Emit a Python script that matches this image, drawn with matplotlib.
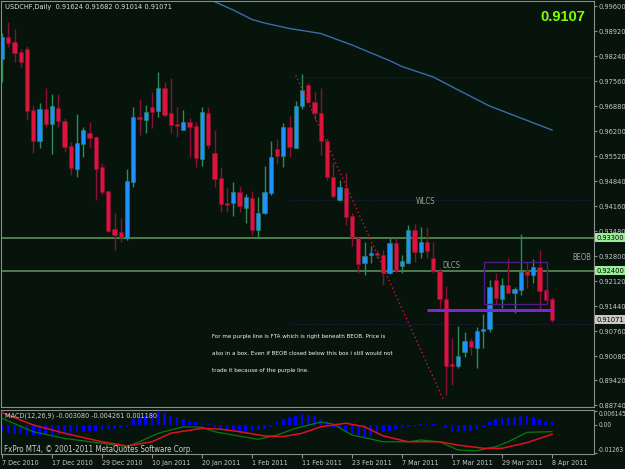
import numpy as np
import matplotlib.pyplot as plt
from matplotlib.patches import Rectangle
from matplotlib.transforms import blended_transform_factory

plt.rcParams['font.family'] = ['DejaVu Sans']
plt.rcParams['font.stretch'] = 'condensed'

# USDCHF daily, 7 Dec 2010 - 8 Apr 2011 (one entry per bar)
opens = [0.98158, 0.98765, 0.98621, 0.98357, 0.98430, 0.96771, 0.95928, 0.96798, 0.96398, 0.96825,
         0.96472, 0.95792, 0.95174, 0.95854, 0.96145, 0.96045, 0.95221, 0.94568, 0.93534, 0.93461,
         0.93281, 0.94821, 0.96581, 0.96507, 0.96861, 0.96752, 0.97378, 0.96681, 0.96382, 0.96235,
         0.96445, 0.96344, 0.95446, 0.96698, 0.95593, 0.94913, 0.94241, 0.94241, 0.94532, 0.94114,
         0.94386, 0.93499, 0.93978, 0.94522, 0.95718, 0.95520, 0.96317, 0.95746, 0.96888, 0.97451,
         0.96997, 0.96698, 0.95936, 0.94957, 0.94323, 0.94658, 0.93888, 0.93298, 0.92601, 0.92819,
         0.92890, 0.92827, 0.92346, 0.93162, 0.92528, 0.92618, 0.93507, 0.92917, 0.93172, 0.92737,
         0.92400, 0.91630, 0.89854, 0.89816, 0.90180, 0.90488, 0.90306, 0.90760, 0.90806, 0.92147,
         0.91638, 0.92011, 0.91802, 0.91875, 0.92400, 0.92291, 0.92509, 0.91875, 0.91624]
highs = [0.98865, 0.99173, 0.98974, 0.98430, 0.98512, 0.96907, 0.96961, 0.97369, 0.97206, 0.97206,
         0.96553, 0.95901, 0.96662, 0.96317, 0.96453, 0.96060, 0.95329, 0.94576, 0.93969, 0.93833,
         0.95166, 0.96853, 0.97070, 0.96907, 0.97269, 0.97813, 0.97541, 0.97633, 0.96861, 0.96771,
         0.96545, 0.96453, 0.96861, 0.96861, 0.96227, 0.95229, 0.94641, 0.94821, 0.94712, 0.94478,
         0.94568, 0.94413, 0.95248, 0.95936, 0.95974, 0.96409, 0.96608, 0.97016, 0.97750, 0.97505,
         0.97269, 0.97361, 0.96009, 0.95365, 0.94867, 0.95049, 0.93961, 0.93325, 0.93189, 0.93072,
         0.92963, 0.92963, 0.93281, 0.93281, 0.92827, 0.93643, 0.93670, 0.93597, 0.93597, 0.93189,
         0.92465, 0.91984, 0.90578, 0.90896, 0.90741, 0.90561, 0.90877, 0.91222, 0.92147, 0.92346,
         0.92210, 0.92737, 0.91949, 0.93398, 0.92645, 0.92710, 0.92963, 0.91903, 0.91682]
lows = [0.97533, 0.98493, 0.98085, 0.97949, 0.96499, 0.95601, 0.95737, 0.96317, 0.95574, 0.96317,
        0.95637, 0.95003, 0.94957, 0.95501, 0.95765, 0.94323, 0.94486, 0.93461, 0.92963, 0.93189,
        0.93235, 0.94685, 0.96091, 0.96145, 0.96273, 0.96589, 0.96589, 0.96137, 0.96045, 0.96227,
        0.95501, 0.95212, 0.95248, 0.95729, 0.94685, 0.94005, 0.94005, 0.93888, 0.94005, 0.93689,
        0.93371, 0.93281, 0.93942, 0.94459, 0.95302, 0.95229, 0.95501, 0.95729, 0.96790, 0.96961,
        0.96499, 0.95547, 0.94867, 0.94369, 0.94304, 0.93643, 0.93072, 0.92329, 0.92283, 0.92601,
        0.92737, 0.92011, 0.92310, 0.92373, 0.92329, 0.92601, 0.92645, 0.92737, 0.92745, 0.92346,
        0.91377, 0.89019, 0.89291, 0.89753, 0.90061, 0.90107, 0.89745, 0.90290, 0.90741, 0.91494,
        0.91377, 0.91785, 0.91258, 0.91739, 0.91921, 0.92057, 0.91331, 0.91603, 0.91014]
closes = [0.98765, 0.98602, 0.98330, 0.98085, 0.96752, 0.95928, 0.96798, 0.96398, 0.96880, 0.96480,
          0.95773, 0.95202, 0.95873, 0.96227, 0.96009, 0.95174, 0.94532, 0.93488, 0.93371, 0.93317,
          0.94848, 0.96581, 0.96526, 0.96725, 0.96725, 0.97361, 0.96635, 0.96363, 0.96328, 0.96445,
          0.96317, 0.95457, 0.96717, 0.95811, 0.94902, 0.94214, 0.94187, 0.94532, 0.94160, 0.94396,
          0.93499, 0.93961, 0.94549, 0.95484, 0.95520, 0.96317, 0.95756, 0.96888, 0.97315, 0.96997,
          0.96698, 0.95936, 0.94957, 0.94432, 0.94668, 0.93869, 0.93325, 0.92582, 0.92808, 0.92890,
          0.92819, 0.92346, 0.93162, 0.92419, 0.92672, 0.93507, 0.92917, 0.93172, 0.92944, 0.92400,
          0.91630, 0.89816, 0.89816, 0.90088, 0.90488, 0.90333, 0.90760, 0.90814, 0.91948, 0.91649,
          0.92011, 0.91802, 0.91902, 0.92373, 0.92283, 0.92509, 0.91856, 0.91603, 0.91071]

date_ticks = [0, 8, 16, 24, 32, 40, 48, 56, 64, 72, 80, 88]
date_labels = ['7 Dec 2010', '17 Dec 2010', '29 Dec 2010', '10 Jan 2011', '20 Jan 2011', '1 Feb 2011',
               '11 Feb 2011', '23 Feb 2011', '7 Mar 2011', '17 Mar 2011', '29 Mar 2011', '8 Apr 2011']
price_ticks = [0.99600, 0.98920, 0.98240, 0.97560, 0.96880, 0.96200, 0.95520, 0.94840, 0.94160,
               0.93480, 0.92800, 0.92120, 0.91440, 0.90760, 0.90080, 0.89420, 0.88740]

# moving average read at a few bars
ma_idx = [34, 37, 40, 42, 46, 51, 56, 62, 64, 69, 73, 78, 83, 88]
ma_val = [0.99720, 0.99491, 0.99233, 0.99137, 0.98988, 0.98852, 0.98539, 0.98117, 0.97954,
          0.97669, 0.97315, 0.96880, 0.96553, 0.96227]

levels = [0.93300, 0.92400]
dim_levels = [0.97669, 0.94323, 0.90950]
fta_level = 0.91331
box_lo, box_hi = 0.91502, 0.92637
trend_idx = [47.0, 70.6]
trend_val = [0.97720, 0.88900]

# MACD(12,26,9)
hist = [-0.00343, -0.00373, -0.00417, -0.00417, -0.00447, -0.00477, -0.00492, -0.00477, -0.00447, -0.00417,
        -0.00388, -0.00358, -0.00343, -0.00313, -0.00298, -0.00268, -0.00253, -0.00224, -0.00194, -0.00149,
        -0.00089, 0.00253, 0.00328, 0.00402, 0.00477, 0.00551, 0.00507, 0.00402, 0.00328, 0.00253,
        0.00179, 0.00104, 0.00060, 0.00030, -0.00119, -0.00194, -0.00238, -0.00298, -0.00328, -0.00298,
        -0.00268, -0.00238, -0.00179, -0.00089, 0.00104, 0.00253, 0.00328, 0.00402, 0.00477, 0.00447,
        0.00402, 0.00253, 0.00149, -0.00089, -0.00149, -0.00268, -0.00417, -0.00492, -0.00536, -0.00492,
        -0.00417, -0.00343, -0.00298, -0.00238, -0.00149, -0.00089, -0.00045, 0.00030, 0.00060, 0.00030,
        -0.00015, -0.00149, -0.00343, -0.00343, -0.00298, -0.00268, -0.00194, -0.00119, 0.00104, 0.00253,
        0.00298, 0.00358, 0.00358, 0.00402, 0.00402, 0.00358, 0.00253, 0.00179, 0.00118]
main_idx = [0, 5, 10, 16, 20, 22, 25, 29, 32, 34, 37, 41, 44, 47, 51, 53, 56, 61, 65, 67, 70, 73, 76, 79, 81, 84, 88]
main_val = [0.0029, -0.0031, -0.0061, -0.0083, -0.0098, -0.0076, -0.0038, -0.0009, -0.0011, -0.0031,
            -0.0046, -0.0065, -0.0046, -0.0016, 0.0012, 0.0003, -0.0046, -0.0076, -0.0076, -0.0068,
            -0.0076, -0.0113, -0.0116, -0.0098, -0.0076, -0.0034, -0.00308]
sig_idx = [0, 5, 10, 16, 20, 24, 27, 32, 35, 38, 42, 45, 48, 51, 55, 58, 61, 65, 70, 73, 77, 80, 84, 88]
sig_val = [0.0054, -0.0001, -0.0038, -0.0076, -0.0095, -0.0076, -0.0038, -0.0016, -0.0020, -0.0031,
           -0.0050, -0.0053, -0.0038, -0.0009, 0.0007, -0.0009, -0.0050, -0.0076, -0.0076, -0.0091,
           -0.0105, -0.0105, -0.0080, -0.004261]

bg = '#06140c'
axcol = '#c8c8c8'
edge = '#8c8c8c'
fs = 5.3

fig = plt.figure(figsize=(6.25, 4.69), dpi=100, facecolor=bg)
ax = fig.add_axes([1/625, 62/469, 593/625, 406/469], facecolor=bg)
mx = fig.add_axes([1/625, 15/469, 593/625, 44/469], facecolor=bg)

n = len(opens)
x = np.arange(n)
o = np.array(opens); h = np.array(highs); l = np.array(lows); c = np.array(closes)
up = c >= o
wick_col = np.where(up, '#2e8b57', '#8b1038')
body_col = np.where(up, '#1e90ff', '#dc143c')

ax.vlines(x, l, h, colors=wick_col, lw=1, zorder=3)
body = np.maximum(np.abs(c - o), 0.00018)
ax.bar(x, body, bottom=np.minimum(o, c), width=0.66, color=body_col,
       edgecolor=wick_col, linewidth=0.4, zorder=4)

ax.plot(ma_idx, ma_val, color='#3b6ba8', lw=1, zorder=2)
for lv in levels:
    ax.axhline(lv, color='#5e9a5a', lw=1.1, zorder=2)
ax.hlines(dim_levels, 46, 95, colors='#2a1d58', linestyles=':', lw=0.8, zorder=1)
ax.hlines(fta_level, 68, 88.2, colors='#7a28d0', lw=2.2, zorder=5)
ax.add_patch(Rectangle((77.1, box_lo), 10.1, box_hi - box_lo, fill=False,
                       ec='#4e1c86', lw=1, zorder=5))
ax.plot(trend_idx, trend_val, color='#e0102a', ls=(0, (1, 2)), lw=1, zorder=5)

ax.set_xlim(-0.16, 94.72)
ax.set_ylim(0.88693, 0.99736)
ax.set_xticks([])
ax.yaxis.tick_right()
ax.set_yticks(price_ticks)
ax.set_yticklabels(['%.5f' % v for v in price_ticks])
ax.tick_params(axis='y', colors=edge, labelcolor=axcol, labelsize=fs, length=2.2, pad=0.8)
for s in ax.spines.values():
    s.set_color(edge)

tr = blended_transform_factory(ax.transAxes, ax.transData)
for lv in levels:
    ax.text(1.0035, lv, '%.5f' % lv, transform=tr, fontsize=fs, color='black', va='center',
            bbox=dict(boxstyle='square,pad=0.2', fc='#98ee98', ec='none'), clip_on=False, zorder=6)
ax.text(1.0035, closes[-1], '%.5f' % closes[-1], transform=tr, fontsize=fs, color='black', va='center',
        bbox=dict(boxstyle='square,pad=0.2', fc='#c8c8c8', ec='none'), clip_on=False, zorder=6)

ax.text(0.0067, 0.984, 'USDCHF,Daily  %.5f %.5f %.5f %.5f' % (opens[-1], highs[-1], lows[-1], closes[-1]),
        transform=ax.transAxes, fontsize=5.3, color='#e0e0e0', va='center')
ax.text(0.985, 0.9606, '%.4f' % closes[-1], transform=ax.transAxes, fontsize=10.5, color='#80ff00',
        fontweight='bold', family=['Liberation Sans', 'DejaVu Sans'], ha='right', va='center')

ax.text(66.2, 0.94269, 'WLCS', fontsize=5.5, color='#a0a0a0', va='center')
ax.text(70.4, 0.92555, 'DLCS', fontsize=5.5, color='#a0a0a0', va='center')
ax.text(91.2, 0.92759, 'BEOB', fontsize=5.5, color='#a0a0a0', va='center')

note = ['For me purple line is FTA which is right beneath BEOB. Price is',
        'also in a box. Even if BEOB closed below this box i still would not',
        'trade it because of the purple line.']
for k, line in enumerate(note):
    ax.annotate(line, xy=(33.6, 0.90597), xytext=(0, -k * 11.9), textcoords='offset points',
                fontsize=4.5, color='#f4f4f4', va='center')

# MACD window
mx.bar(x, hist, width=0.45, color='#0000ff', zorder=2)
mx.plot(main_idx, main_val, color='#0a7a0a', lw=0.9, zorder=3)
mx.plot(sig_idx, sig_val, color='#e01020', lw=1.1, zorder=3)
mx.set_xlim(-0.16, 94.72)
mx.set_ylim(-0.01307, 0.006592)
mx.yaxis.tick_right()
mx.set_yticks([0.006145, 0.0, -0.01263])
mx.set_yticklabels(['0.006145', '0.00', '-0.01263'])
mx.tick_params(axis='y', colors=edge, labelcolor=axcol, labelsize=4.7, length=2.2, pad=0.8)
labs = mx.get_yticklabels()
labs[0].set_va('top')
labs[2].set_va('bottom')
mx.set_xticks(date_ticks)
mx.set_xticklabels(date_labels, ha='left')
mx.tick_params(axis='x', colors=edge, labelcolor=axcol, labelsize=5.1, length=3, pad=1)
for s in mx.spines.values():
    s.set_color(edge)
mx.text(0.0067, 0.86, 'MACD(12,26,9) -0.003080 -0.004261 0.001180', transform=mx.transAxes,
        fontsize=5.2, color='#d0d0d0', va='center')
mx.text(0.005, 0.11, 'FxPro MT4, © 2001-2011 MetaQuotes Software Corp.', transform=mx.transAxes,
        fontsize=5.7, color='#d0d0d0', va='center')

fig.savefig('out.png', dpi=100, facecolor=bg)
